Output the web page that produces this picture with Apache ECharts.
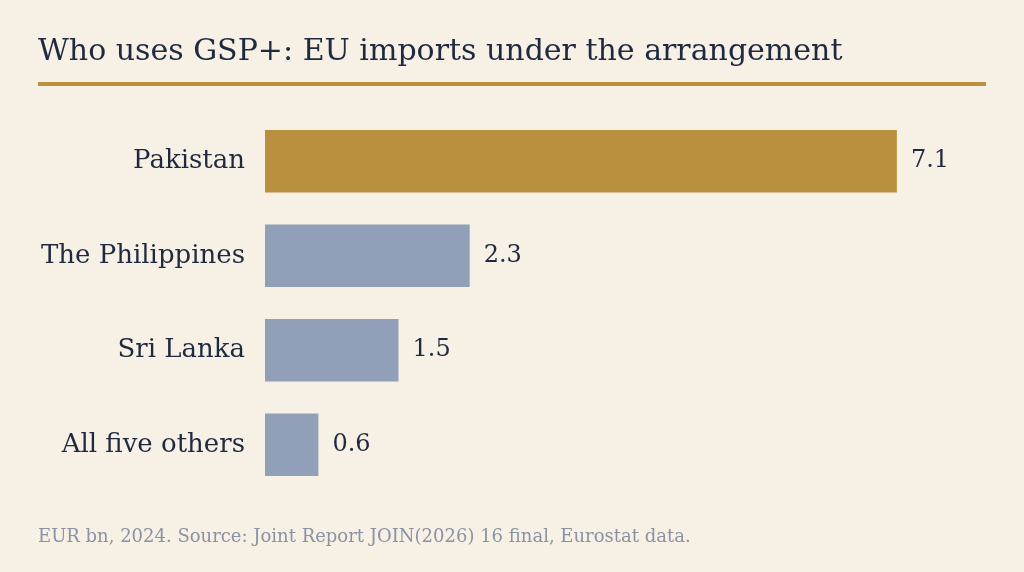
<!DOCTYPE html>
<html>
<head>
<meta charset="utf-8">
<script src="https://cdn.jsdelivr.net/npm/echarts@6/dist/echarts.min.js"></script>
<style>
  html, body { margin: 0; padding: 0; background: #f7f0e5; }
  #main { width: 1024px; height: 572px; }
</style>
</head>
<body>
<div id="main"></div>
<script type="text/javascript">
  // data
  var categories = ['Pakistan', 'The Philippines', 'Sri Lanka', 'All five others'];
  var imports = [7.1, 2.3, 1.5, 0.6];
  var barColors = ['#b8903e', '#919fb8', '#919fb8', '#919fb8'];

  var serif = 'Georgia, "DejaVu Serif", serif';
  var myChart = echarts.init(document.getElementById('main'));

  var option = {
    backgroundColor: '#f7f0e5',
    title: {
      text: 'Who uses GSP+: EU imports under the arrangement',
      left: 33,
      top: 32,
      textStyle: { fontFamily: serif, fontSize: 30, fontWeight: 'normal', color: '#1f2a40' }
    },
    graphic: [
      { type: 'rect', shape: { x: 38, y: 82, width: 948, height: 4 }, style: { fill: '#b8903e' } },
      {
        type: 'text', left: 38, top: 528,
        style: { text: 'EUR bn, 2024. Source: Joint Report JOIN(2026) 16 final, Eurostat data.',
                 font: '18px ' + serif, fill: '#8a93a3' }
      }
    ],
    grid: { left: 265, right: 47, top: 114, bottom: 80, containLabel: false },
    xAxis: {
      type: 'value', min: 0, max: 8, show: false
    },
    yAxis: {
      type: 'category',
      inverse: true,
      data: categories,
      axisLine: { show: false },
      axisTick: { show: false },
      axisLabel: { margin: 20, fontFamily: serif, fontSize: 26, color: '#1f2a40' }
    },
    series: [{
      type: 'bar',
      barWidth: '66%',
      data: imports.map(function (v, i) {
        return { value: v, itemStyle: { color: barColors[i] } };
      }),
      label: {
        show: true, position: 'right', distance: 14,
        fontFamily: serif, fontSize: 24, color: '#1f2a40'
      }
    }]
  };

  myChart.setOption(option);
</script>
</body>
</html>
